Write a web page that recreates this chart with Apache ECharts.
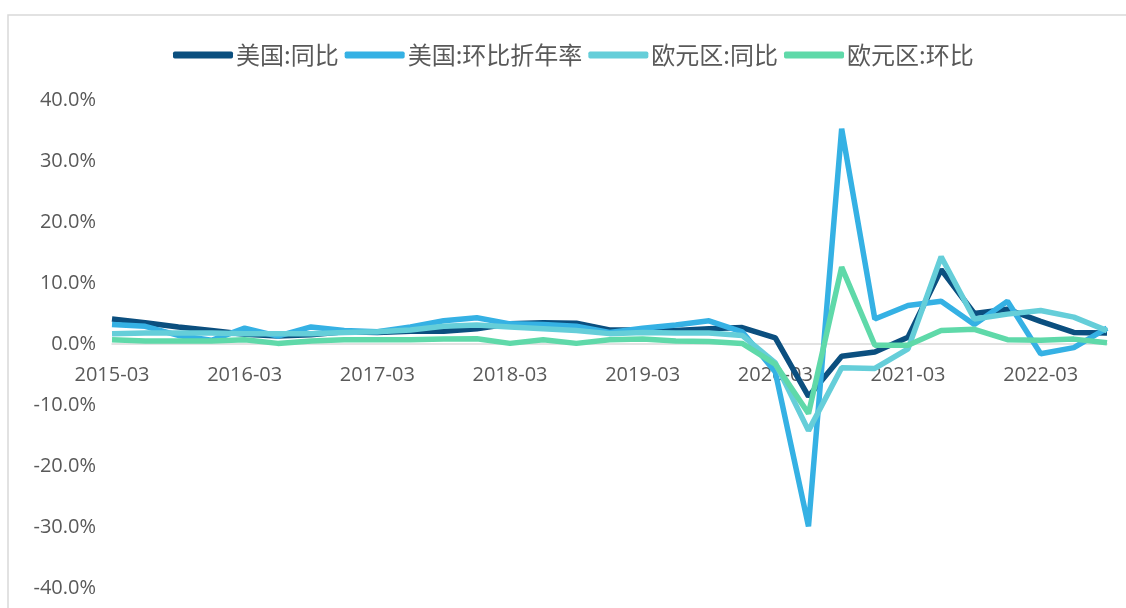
<!DOCTYPE html>
<html>
<head>
    <meta charset="utf-8">
    <title>美国与欧元区GDP增速</title>
    <script src="https://cdn.jsdelivr.net/npm/echarts@6/dist/echarts.min.js"></script>
    <style>
        html, body { margin: 0; padding: 0; background: #fff; }
        #main { width: 1126px; height: 608px; }
    </style>
</head>
<body>
    <div id="main"></div>
    <script type="text/javascript">
        // 季度
        var quarters = [
            '2015-03', '2015-06', '2015-09', '2015-12',
            '2016-03', '2016-06', '2016-09', '2016-12',
            '2017-03', '2017-06', '2017-09', '2017-12',
            '2018-03', '2018-06', '2018-09', '2018-12',
            '2019-03', '2019-06', '2019-09', '2019-12',
            '2020-03', '2020-06', '2020-09', '2020-12',
            '2021-03', '2021-06', '2021-09', '2021-12',
            '2022-03', '2022-06', '2022-09'
        ];
        var seriesNames = ['美国:同比', '美国:环比折年率', '欧元区:同比', '欧元区:环比'];

        var usYoy = [4.1, 3.5, 2.8, 2.2, 1.6, 1.3, 1.5, 2.0, 1.9, 2.1, 2.1, 2.5,
            3.3, 3.5, 3.4, 2.3, 2.3, 2.2, 2.5, 2.7, 1.0, -8.6, -2.0, -1.3,
            1.1, 12.2, 5.0, 5.7, 3.7, 1.9, 1.8];
        var usQoqAnn = [3.2, 2.9, 1.4, 0.6, 2.6, 1.3, 2.8, 2.2, 2.0, 2.8, 3.8, 4.3,
            3.3, 3.2, 2.9, 1.9, 2.6, 3.1, 3.8, 2.0, -4.6, -29.9, 35.3, 4.1,
            6.3, 7.0, 3.2, 7.0, -1.6, -0.6, 2.6];
        var euYoy = [1.7, 1.8, 1.8, 1.8, 1.7, 1.7, 1.7, 1.9, 2.0, 2.3, 2.9, 3.1,
            2.8, 2.5, 2.2, 1.7, 1.9, 1.8, 1.8, 1.4, -3.1, -14.2, -3.9, -4.0,
            -0.8, 14.3, 4.1, 4.9, 5.5, 4.4, 2.2];
        var euQoq = [0.7, 0.5, 0.5, 0.5, 0.7, 0.1, 0.5, 0.7, 0.7, 0.7, 0.8, 0.85,
            0.1, 0.7, 0.1, 0.7, 0.8, 0.5, 0.4, 0.1, -3.3, -11.4, 12.6, -0.2,
            -0.2, 2.2, 2.4, 0.7, 0.6, 0.8, 0.2];

        var colors = ['#0b4f7f', '#35b1e4', '#65ced9', '#5fd9a9'];
        var yTicks = { min: -40, max: 40, interval: 10 };

        var gridTop = 100, gridBottom = 20, chartH = 608;
        // 横轴放在0值处（y 轴对称，所以是绘图区一半高度）
        var xAxisOffset = -(chartH - gridTop - gridBottom) / 2;

        var myChart = echarts.init(document.getElementById('main'));

        var makeLine = function (name, data) {
            return {
                name: name,
                type: 'line',
                data: data,
                showSymbol: false,
                smooth: false,
                lineStyle: { width: 5.5 },
                emphasis: { disabled: true }
            };
        };

        var option = {
            color: colors,
            animation: false,
            textStyle: { fontFamily: '"Open Sans", "Noto Sans CJK SC", sans-serif' },
            graphic: [{
                type: 'rect',
                shape: { x: 8, y: 15, width: 1130, height: 610 },
                style: { fill: 'none', stroke: '#d9d9d9', lineWidth: 1.5 },
                silent: true
            }],
            legend: {
                data: seriesNames,
                left: 168,
                top: 38,
                itemWidth: 60,
                itemHeight: 7,
                itemGap: 6,
                icon: 'roundRect',
                textStyle: {
                    fontFamily: '"Noto Sans CJK SC", sans-serif',
                    fontSize: 24,
                    color: '#595959',
                    padding: [0, 0, 0, -2]
                }
            },
            grid: {
                left: 112,
                right: 19,
                top: gridTop,
                bottom: gridBottom,
                outerBoundsMode: 'none',
                containLabel: false
            },
            xAxis: {
                type: 'category',
                data: quarters,
                boundaryGap: false,
                position: 'bottom',
                offset: xAxisOffset,
                axisLine: { onZero: false, lineStyle: { color: '#d9d9d9', width: 1.5 } },
                axisTick: { show: false },
                axisLabel: {
                    interval: 3,
                    margin: 21,
                    fontSize: 20,
                    color: '#595959'
                }
            },
            yAxis: {
                type: 'value',
                min: yTicks.min,
                max: yTicks.max,
                interval: yTicks.interval,
                axisLine: { show: false },
                axisTick: { show: false },
                splitLine: { show: false },
                axisLabel: {
                    margin: 16,
                    fontSize: 20,
                    color: '#595959',
                    formatter: function (v) { return v.toFixed(1) + '%'; }
                }
            },
            series: [
                makeLine(seriesNames[0], usYoy),
                makeLine(seriesNames[1], usQoqAnn),
                makeLine(seriesNames[2], euYoy),
                makeLine(seriesNames[3], euQoq)
            ]
        };

        myChart.setOption(option);
    </script>
</body>
</html>
